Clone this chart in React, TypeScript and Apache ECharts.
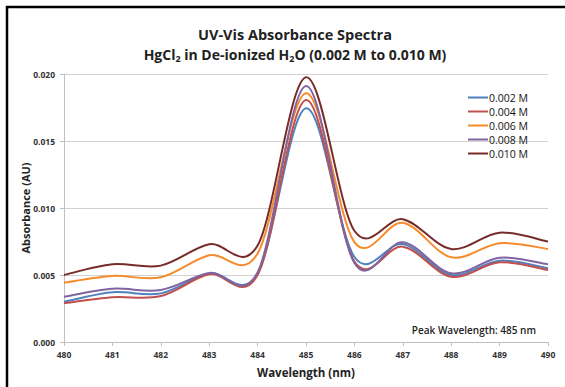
import React, { useEffect, useRef } from "react";
import * as echarts from "echarts";

const wavelengths = [480, 481, 482, 483, 484, 485, 486, 487, 488, 489, 490];
const seriesNames = ["0.002 M", "0.004 M", "0.006 M", "0.008 M", "0.010 M"];
const c002 = [0.0030, 0.00371, 0.00363, 0.00513, 0.0051, 0.01744, 0.00634, 0.00731, 0.0050, 0.00607, 0.0055];
const c004 = [0.00289, 0.00334, 0.00343, 0.00505, 0.0050, 0.01806, 0.0060, 0.00711, 0.00487, 0.00595, 0.00537];
const c006 = [0.00443, 0.00493, 0.00483, 0.00647, 0.0066, 0.01856, 0.00746, 0.0089, 0.00632, 0.00737, 0.00694];
const c008 = [0.00338, 0.00398, 0.00388, 0.00515, 0.0052, 0.0191, 0.0059, 0.00744, 0.00513, 0.00629, 0.0058];
const c010 = [0.0050, 0.0058, 0.0057, 0.00729, 0.0072, 0.01975, 0.0083, 0.00916, 0.00694, 0.00816, 0.00749];
const seriesValues = [c002, c004, c006, c008, c010];
const colors = ["#4F81BD", "#C0504D", "#F68B2C", "#8064A2", "#772C2A"];

const FONT = "Open Sans";
const TENSION = 1 / 6;

function smoothPath(pts: number[][]): string {
  let d = `M${pts[0][0]},${pts[0][1]}`;
  for (let i = 0; i < pts.length - 1; i++) {
    const p0 = pts[Math.max(0, i - 1)];
    const p1 = pts[i];
    const p2 = pts[i + 1];
    const p3 = pts[Math.min(pts.length - 1, i + 2)];
    const c1x = p1[0] + (p2[0] - p0[0]) * TENSION;
    const c1y = p1[1] + (p2[1] - p0[1]) * TENSION;
    const c2x = p2[0] - (p3[0] - p1[0]) * TENSION;
    const c2y = p2[1] - (p3[1] - p1[1]) * TENSION;
    d += ` C${c1x},${c1y} ${c2x},${c2y} ${p2[0]},${p2[1]}`;
  }
  return d;
}

export default function App() {
  const ref = useRef<HTMLDivElement>(null);
  useEffect(() => {
    if (!ref.current) return;
    const chart = echarts.init(ref.current, undefined, { renderer: "svg" });
    chart.setOption({
      animation: false,
      backgroundColor: "#ffffff",
      textStyle: { fontFamily: FONT },
      title: {
        left: 290,
        textAlign: "center",
        top: 19,
        text: "UV-Vis Absorbance Spectra\n{a|HgCl}{s|2}{a| in De-ionized H}{s|2}{a|O (0.002 M to 0.010 M)}",
        textStyle: {
          fontFamily: FONT,
          fontSize: 14.5,
          fontWeight: "bold",
          color: "#222",
          lineHeight: 20,
          rich: {
            a: { fontFamily: FONT, fontSize: 14, fontWeight: "bold", color: "#222", lineHeight: 20 },
            s: { fontFamily: FONT, fontSize: 9, fontWeight: "bold", color: "#222", lineHeight: 20, padding: [8, 0, 0, 0] },
          },
        },
      },
      legend: {
        orient: "vertical",
        left: 463,
        top: 87,
        itemWidth: 20,
        itemHeight: 2,
        itemGap: 3,
        icon: "rect",
        data: seriesNames,
        textStyle: { fontFamily: FONT, fontSize: 10.5, color: "#111", padding: [0, 0, 0, -4] },
      },
      grid: { left: 64, right: 17, top: 74, bottom: 45 },
      xAxis: {
        type: "value",
        min: 480,
        max: 490,
        interval: 1,
        name: "Wavelength (nm)",
        nameLocation: "middle",
        nameGap: 24,
        nameMoveOverlap: false,
        nameTextStyle: { fontFamily: FONT, fontSize: 11.5, fontWeight: "bold", color: "#222" },
        axisLine: { show: true, lineStyle: { color: "#bfbfbf", width: 1 } },
        axisTick: { show: true, length: 4, lineStyle: { color: "#bfbfbf" } },
        axisLabel: { fontFamily: FONT, fontSize: 8.5, fontWeight: "bold", color: "#333", margin: 8 },
        splitLine: { show: false },
      },
      yAxis: {
        type: "value",
        min: 0,
        max: 0.02,
        interval: 0.005,
        name: "Absorbance (AU)",
        nameLocation: "middle",
        nameGap: 33,
        nameMoveOverlap: false,
        nameRotate: 90,
        nameTextStyle: { fontFamily: FONT, fontSize: 11, fontWeight: "bold", color: "#222" },
        axisLine: { show: true, lineStyle: { color: "#bfbfbf", width: 1 } },
        axisTick: { show: true, length: 4, lineStyle: { color: "#bfbfbf" } },
        axisLabel: {
          fontFamily: FONT,
          fontSize: 8.5,
          fontWeight: "bold",
          color: "#333",
          margin: 9,
          formatter: (v: number) => v.toFixed(3),
        },
        splitLine: { show: true, lineStyle: { color: "#d0d0d0", width: 1 } },
      },
      series: seriesNames.map((name, i) => ({
        name,
        type: "custom",
        itemStyle: { color: colors[i] },
        data: wavelengths.map((w, j) => [w, seriesValues[i][j]]),
        renderItem: (params: any, api: any) => {
          if (params.dataIndex !== 0) return { type: "group", children: [] };
          const pts = wavelengths.map((w, j) => api.coord([w, seriesValues[i][j]]));
          return {
            type: "path",
            shape: { pathData: smoothPath(pts) },
            style: { fill: "none", stroke: colors[i], lineWidth: 2 },
          };
        },
      })),
      graphic: [
        {
          type: "rect",
          shape: { x: 7, y: 7, width: 620, height: 500 },
          style: { fill: "none", stroke: "#000", lineWidth: 2.5 },
          silent: true,
        },
        {
          type: "text",
          x: 536,
          y: 330,
          style: {
            text: "Peak Wavelength: 485 nm",
            font: `600 10px '${FONT}'`,
            fill: "#222",
            align: "right",
            verticalAlign: "middle",
          },
        },
      ],
    });
    return () => chart.dispose();
  }, []);
  return (
    <div
      ref={ref}
      style={{ position: "fixed", left: 0, top: 0, width: 565, height: 387 }}
    />
  );
}
